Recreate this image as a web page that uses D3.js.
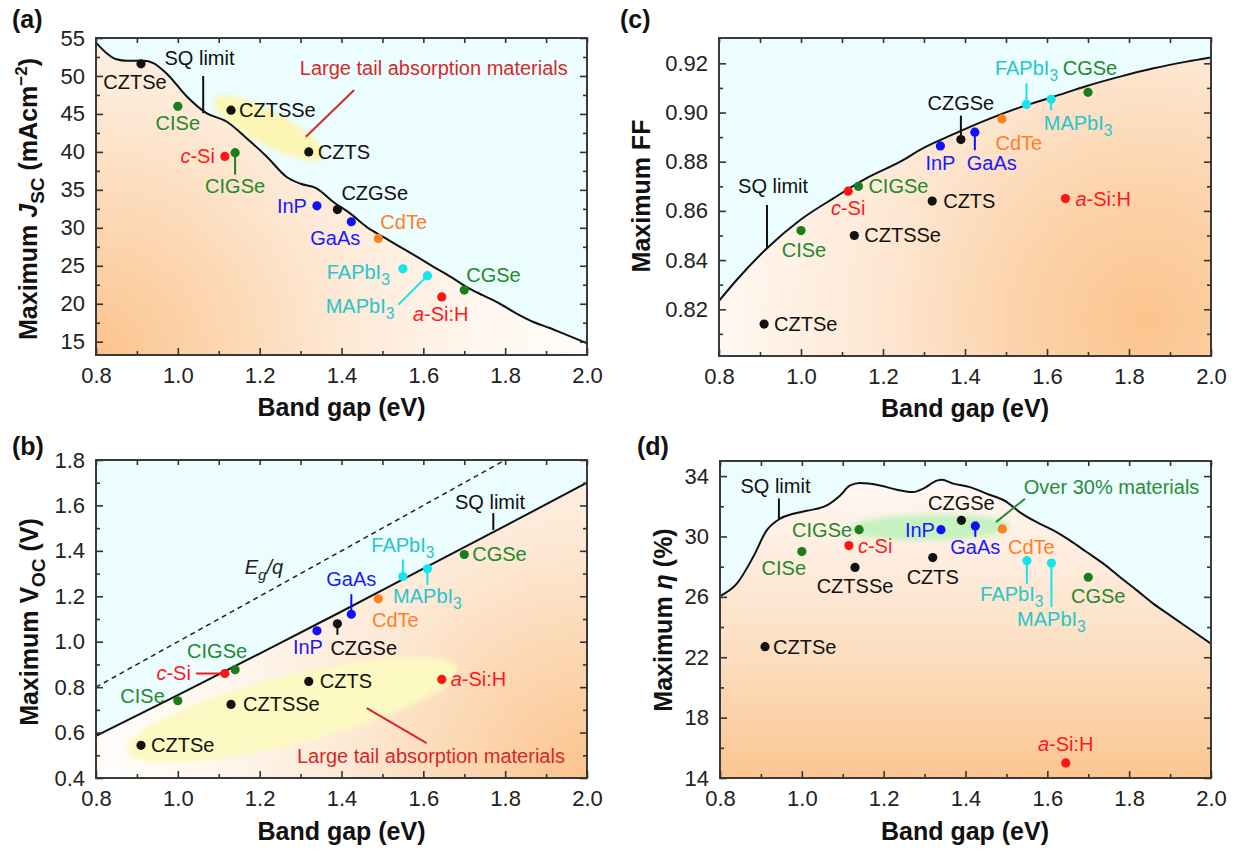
<!DOCTYPE html>
<html>
<head>
<meta charset="utf-8">
<script src="https://cdn.jsdelivr.net/npm/d3@7"></script>
<style>
  body { margin: 0; background: #fff; }
  svg { display: block; font-family: "Liberation Sans", Arial, sans-serif; }
</style>
</head>
<body>
<svg width="1242" height="852"></svg>
<script>
// materials and their band gaps (eV)
const materials = ['CZTSe', 'CISe', 'c-Si', 'CIGSe', 'CZTSSe', 'CZTS', 'InP', 'CZGSe', 'GaAs', 'CdTe', 'FAPbI3', 'MAPbI3', 'a-Si:H', 'CGSe'];
const bandGap = [0.91, 1.00, 1.115, 1.14, 1.13, 1.32, 1.34, 1.39, 1.424, 1.49, 1.55, 1.61, 1.645, 1.70];

// best values per material
const jscValues = [51.6, 46.0, 39.4, 39.9, 45.5, 40.0, 32.9, 32.4, 30.8, 28.6, 24.6, 23.7, 20.9, 21.8];
const vocValues = [0.544, 0.740, 0.860, 0.877, 0.724, 0.825, 1.048, 1.079, 1.121, 1.189, 1.287, 1.321, 0.834, 1.384];
const ffValues = [0.814, 0.852, 0.868, 0.870, 0.850, 0.864, 0.8864, 0.889, 0.892, 0.8974, 0.9033, 0.9054, 0.865, 0.9082];
const effValues = [22.7, 29.0, 29.4, 30.45, 27.95, 28.6, 30.45, 31.07, 30.7, 30.5, 28.4, 28.24, 15.0, 27.3];

// Shockley-Queisser limit curves [gap, value]
const sqJsc = [[0.80, 54.4], [0.826, 53.0], [0.85, 52.2], [0.875, 52.0], [0.916, 52.0], [0.94, 51.7], [0.973, 50.3], [1.022, 47.3], [1.07, 45.1], [1.119, 44.0], [1.168, 41.8], [1.217, 39.4], [1.266, 36.7], [1.30, 35.8], [1.339, 35.2], [1.38, 33.4], [1.421, 31.9], [1.462, 30.1], [1.502, 28.8], [1.543, 27.5], [1.584, 26.2], [1.624, 24.9], [1.665, 23.6], [1.706, 22.2], [1.746, 21.1], [1.787, 20.0], [1.828, 18.7], [1.869, 17.6], [1.909, 16.8], [1.95, 15.9], [2.0, 14.8]];
const sqVoc = [[0.8, 0.585], [1.0, 0.765], [1.2, 0.948], [1.4, 1.133], [1.6, 1.322], [1.8, 1.51], [2.0, 1.70]];
const egLine = [[0.8, 0.8], [1.8, 1.8]];
const sqFF = [[0.8, 0.8234], [0.843, 0.8319], [0.917, 0.8448], [0.998, 0.8563], [1.079, 0.8651], [1.16, 0.8733], [1.25, 0.8807], [1.29, 0.8848], [1.372, 0.8912], [1.453, 0.897], [1.534, 0.9021], [1.616, 0.9064], [1.697, 0.9108], [1.778, 0.9146], [1.86, 0.918], [1.941, 0.9207], [2.0, 0.9224]];
const sqEff = [[0.8, 26.05], [0.841, 26.87], [0.881, 28.64], [0.914, 30.4], [0.947, 31.18], [0.979, 31.5], [1.012, 31.7], [1.061, 32.06], [1.093, 32.7], [1.118, 33.38], [1.142, 33.54], [1.191, 33.38], [1.232, 33.1], [1.272, 32.94], [1.297, 33.17], [1.33, 33.7], [1.342, 33.76], [1.37, 33.5], [1.411, 33.27], [1.452, 32.83], [1.501, 32.28], [1.533, 31.6], [1.574, 30.95], [1.615, 30.4], [1.655, 29.74], [1.696, 28.97], [1.737, 28.2], [1.778, 27.3], [1.819, 26.43], [1.859, 25.55], [1.9, 24.77], [1.941, 24.0], [2.0, 22.9]];

// ticks
const xTicks = [0.8, 1.0, 1.2, 1.4, 1.6, 1.8, 2.0];
const xMinor = [0.9, 1.1, 1.3, 1.5, 1.7, 1.9];
const jscTicks = [15, 20, 25, 30, 35, 40, 45, 50, 55];
const jscMinor = [17.5, 22.5, 27.5, 32.5, 37.5, 42.5, 47.5, 52.5];
const vocTicks = [0.4, 0.6, 0.8, 1.0, 1.2, 1.4, 1.6, 1.8];
const vocMinor = [0.5, 0.7, 0.9, 1.1, 1.3, 1.5, 1.7];
const ffTicks = [0.82, 0.84, 0.86, 0.88, 0.90, 0.92];
const ffMinor = [0.81, 0.83, 0.85, 0.87, 0.89, 0.91];
const effTicks = [14, 18, 22, 26, 30, 34];
const effMinor = [16, 20, 24, 28, 32];

// colours per material: [dot, label]
const black = ['#111', '#111'], green = ['#1b7d1b', '#23892b'], red = ['#ff1414', '#ff1a1a'];
const blue = ['#1010ff', '#1a1aff'], orange = ['#ff8020', '#ff7f27'], cyan = ['#14e4ee', '#26c6ca'];
const matColor = [black, green, red, green, black, black, blue, black, blue, orange, cyan, cyan, red, green];

// label layout per panel: [dx, dy, anchor, leader]
const layoutA = [[-6, 18, 'middle'], [0, 17, 'middle'], [-10, 0, 'end'], [0, 33, 'middle', [0, 4, 0, 22]], [8, 0, 'start'], [9, 0, 'start'], [-10, 0, 'end'], [4, -17, 'start'], [9, 16, 'end'], [2, -16, 'start'], [-13, 3, 'end'], [-33, 30, 'end', [-3, 3, -29, 29]], [-1, 17, 'middle'], [2, -15, 'start']];
const layoutB = [[10, 0, 'start'], [-13, -5, 'end'], [-34, -1, 'end', [-29, 0, -4, 0]], [-18, -19, 'middle'], [12, 0, 'start'], [11, 0, 'start'], [-9, 16, 'middle'], [-7, 24, 'start', [0, 3, 0, 11]], [0, -35, 'middle', [0, -20, 0, -4]], [17, 21, 'middle'], [0, -32, 'middle', [0, -17, 0, -4]], [0, 27, 'middle', [0, 4, 0, 16]], [9, 0, 'start'], [8, 0, 'start']];
const layoutC = [[10, 0, 'start'], [3, 19, 'middle'], [0, 17, 'middle'], [10, 0, 'start'], [10, 0, 'start'], [11, 0, 'start'], [0, 17, 'middle'], [0, -37, 'middle', [0, -4, 0, -24]], [17, 31, 'middle', [0, 4, 0, 18]], [17, 24, 'middle'], [0, -36, 'middle', [0, -4, 0, -21]], [27, 24, 'middle', [0, 4, 0, 11]], [10, 0, 'start'], [2, -24, 'middle']];
const layoutD = [[8, 0, 'start'], [-18, 16, 'middle'], [9, 0, 'start'], [-7, 0, 'end'], [0, 19, 'middle'], [0, 19, 'middle'], [-6, 0, 'end'], [0, -17, 'middle'], [0, 21, 'middle', [0, 4, 0, 11]], [29, 18, 'middle'], [-15, 33, 'middle', [0, 4, 0, 23]], [0, 56, 'middle', [0, 4, 0, 44]], [0, -19, 'middle'], [10, 19, 'middle']];

const FONT = '"Liberation Sans", Arial, sans-serif';
const svg = d3.select('svg');
const defs = svg.append('defs');
defs.append('filter').attr('id', 'soft').attr('x', '-20%').attr('y', '-50%').attr('width', '140%').attr('height', '200%')
  .append('feGaussianBlur').attr('stdDeviation', 2.5);

const panels = [
  {
    id: 'a', box: [96, 38, 587, 355], yDomain: [13.25, 55], yTicks: jscTicks, yMinor: jscMinor, fmt: d3.format('d'),
    values: jscValues, sq: sqJsc, layout: layoutA, letter: [12, 28],
    grad: {type: 'radial', cx: 96, cy: 355, r: 560, stops: [[0, '#fbc38c'], [0.22, '#fcd6b0'], [0.45, '#fde9d6'], [0.7, '#fff7f0'], [1, '#ffffff']]},
    blob: {c: [1.223, 43.14], rx: 62, ry: 17, rot: 28, fill: '#fbf6b4'},
    sqTick: [1.062, 50.0, 45.1], sqText: [1.053, 52.33],
    note: {text: 'Large tail absorption materials', at: [1.953, 51.0], anchor: 'end', color: '#d42a2a', line: [[1.431, 48.15], [1.313, 42.0]]},
    yTitle: [37, 199, ['Maximum ', ['J', 'i'], ['SC', 'sub'], ' (mAcm', ['\u22122', 'sup'], ')']], xTitle: [341.5, 416]
  },
  {
    id: 'b', box: [96, 460, 587, 778], yDomain: [0.4, 1.8], yTicks: vocTicks, yMinor: vocMinor, fmt: d3.format('.1f'),
    values: vocValues, sq: sqVoc, layout: layoutB, letter: [12, 455],
    grad: {type: 'radial', cx: 587, cy: 778, r: 540, stops: [[0, '#fbc38c'], [0.22, '#fcd6b0'], [0.45, '#fde9d6'], [0.7, '#fff7f0'], [1, '#ffffff']]},
    blob: {c: [1.279, 0.701], rx: 170, ry: 34, rot: -14, fill: '#fcf9c2'},
    sqTick: [1.771, 1.566, 1.492], sqText: [1.763, 1.617],
    note: {text: 'Large tail absorption materials', at: [1.946, 0.495], anchor: 'end', color: '#d42a2a', line: [[1.4616, 0.708], [1.608, 0.554]]},
    eg: [1.2105, 1.331],
    yTitle: [38, 622, ['Maximum ', ['V', ''], ['OC', 'sub'], ' (V)']], xTitle: [341.5, 840]
  },
  {
    id: 'c', box: [719, 38, 1211, 356], yDomain: [0.801, 0.9303], yTicks: ffTicks, yMinor: ffMinor, fmt: d3.format('.2f'),
    values: ffValues, sq: sqFF, layout: layoutC, letter: [620, 28],
    grad: {type: 'radial', cx: 1145, cy: 320, r: 520, stops: [[0, '#fbc48e'], [0.25, '#fcd3aa'], [0.5, '#fde6d1'], [0.78, '#fff6ee'], [1, '#ffffff']]},
    sqTick: [0.917, 0.8624, 0.8449], sqText: [0.932, 0.8701],
    yTitle: [650, 196, ['Maximum FF']], xTitle: [965, 417]
  },
  {
    id: 'd', box: [720, 461, 1211, 778], yDomain: [14, 35], yTicks: effTicks, yMinor: effMinor, fmt: d3.format('d'),
    values: effValues, sq: sqEff, layout: layoutD, letter: [637, 455],
    grad: {type: 'linear', stops: [[0, '#fffaf6'], [0.3, '#feeddf'], [0.65, '#fcdcbc'], [1, '#fbc590']]},
    blob: {c: [1.313, 30.6], rx: 80, ry: 13, rot: -1, fill: '#c6f2bf'},
    sqTick: [0.944, 32.52, 31.13], sqText: [0.9356, 33.32],
    note: {text: 'Over 30% materials', at: [1.757, 33.27], anchor: 'middle', color: '#2e8b3a', line: [[1.5454, 32.5], [1.4745, 30.95]]},
    yTitle: [672, 620, ['Maximum ', ['\u03b7', 'i'], ' (%)']], xTitle: [965, 840]
  }
];

// label text with italic prefix (c-, a-) or subscript 3
function materialText(g, name, x, y, anchor, color, size) {
  const t = g.append('text').attr('x', x).attr('y', y).attr('text-anchor', anchor)
    .attr('fill', color).style('font-size', size + 'px');
  const m = name.match(/^([ac])-(.*)$/);
  if (m) {
    t.append('tspan').style('font-style', 'italic').text(m[1]);
    t.append('tspan').text('-' + m[2]);
  } else if (/3$/.test(name)) {
    t.append('tspan').text(name.slice(0, -1));
    t.append('tspan').attr('dy', 6).style('font-size', (size * 0.78) + 'px').text('3');
  } else {
    t.text(name);
  }
  return t;
}

panels.forEach(p => {
  const [l, t, r, b] = p.box;
  const x = d3.scaleLinear().domain([0.8, 2.0]).range([l, r]);
  const y = d3.scaleLinear().domain(p.yDomain).range([b, t]);
  const g = svg.append('g');

  // gradient under the SQ limit
  let grad;
  if (p.grad.type === 'radial') {
    grad = defs.append('radialGradient').attr('id', 'g' + p.id).attr('gradientUnits', 'userSpaceOnUse')
      .attr('cx', p.grad.cx).attr('cy', p.grad.cy).attr('r', p.grad.r);
  } else {
    grad = defs.append('linearGradient').attr('id', 'g' + p.id).attr('gradientUnits', 'userSpaceOnUse')
      .attr('x1', 0).attr('x2', 0).attr('y1', t).attr('y2', b);
  }
  p.grad.stops.forEach(s => grad.append('stop').attr('offset', s[0]).attr('stop-color', s[1]));
  defs.append('clipPath').attr('id', 'clip' + p.id).append('rect')
    .attr('x', l).attr('y', t).attr('width', r - l).attr('height', b - t);

  const plot = g.append('g').attr('clip-path', `url(#clip${p.id})`);
  plot.append('rect').attr('x', l).attr('y', t).attr('width', r - l).attr('height', b - t).attr('fill', '#ebfdfe');

  const area = d3.area().x(d => x(d[0])).y0(b).y1(d => y(d[1])).curve(d3.curveMonotoneX);
  plot.append('path').datum(p.sq).attr('d', area).attr('fill', `url(#g${p.id})`);

  if (p.blob) {
    plot.append('ellipse')
      .attr('transform', `translate(${x(p.blob.c[0])},${y(p.blob.c[1])}) rotate(${p.blob.rot})`)
      .attr('rx', p.blob.rx).attr('ry', p.blob.ry).attr('fill', p.blob.fill).attr('filter', 'url(#soft)');
  }

  if (p.eg) {
    const ln = d3.line().x(d => x(d[0])).y(d => y(d[1]));
    plot.append('path').datum(egLine).attr('d', ln).attr('fill', 'none')
      .attr('stroke', '#222').attr('stroke-width', 1.5).attr('stroke-dasharray', '5,4');
    const et = g.append('text').attr('x', x(p.eg[0])).attr('y', y(p.eg[1]) + 7).attr('text-anchor', 'middle')
      .attr('fill', '#222').style('font-size', '20px').style('font-style', 'italic');
    et.append('tspan').text('E');
    et.append('tspan').attr('dy', 6).style('font-size', '15px').text('g');
    et.append('tspan').attr('dy', -6).text('/q');
  }

  const line = d3.line().x(d => x(d[0])).y(d => y(d[1])).curve(d3.curveMonotoneX);
  plot.append('path').datum(p.sq).attr('d', line).attr('fill', 'none').attr('stroke', '#111').attr('stroke-width', 2);

  // SQ limit label
  g.append('line').attr('x1', x(p.sqTick[0])).attr('x2', x(p.sqTick[0]))
    .attr('y1', y(p.sqTick[1])).attr('y2', y(p.sqTick[2])).attr('stroke', '#111').attr('stroke-width', 2);
  g.append('text').attr('x', x(p.sqText[0])).attr('y', y(p.sqText[1]) + 7).attr('text-anchor', 'middle')
    .attr('fill', '#111').style('font-size', '20px').text('SQ limit');

  if (p.note) {
    g.append('line').attr('x1', x(p.note.line[0][0])).attr('y1', y(p.note.line[0][1]))
      .attr('x2', x(p.note.line[1][0])).attr('y2', y(p.note.line[1][1]))
      .attr('stroke', p.note.color).attr('stroke-width', 2);
    g.append('text').attr('x', x(p.note.at[0])).attr('y', y(p.note.at[1]) + 7).attr('text-anchor', p.note.anchor)
      .attr('fill', p.note.color).style('font-size', '20px').text(p.note.text);
  }

  // leader lines, dots and labels
  const pts = materials.map((m, i) => ({name: m, gap: bandGap[i], v: p.values[i], col: matColor[i], lay: p.layout[i]}));
  pts.forEach(d => {
    if (d.lay[3]) {
      const cx = x(d.gap), cy = y(d.v), L = d.lay[3];
      g.append('line').attr('x1', cx + L[0]).attr('y1', cy + L[1]).attr('x2', cx + L[2]).attr('y2', cy + L[3])
        .attr('stroke', d.col[0]).attr('stroke-width', 2);
    }
  });
  g.selectAll('circle.pt').data(pts).enter().append('circle').attr('class', 'pt')
    .attr('cx', d => x(d.gap)).attr('cy', d => y(d.v)).attr('r', 4.6).attr('fill', d => d.col[0]);
  pts.forEach(d => {
    materialText(g, d.name, x(d.gap) + d.lay[0], y(d.v) + d.lay[1] + 7, d.lay[2], d.col[1], 20);
  });

  // frame
  g.append('rect').attr('x', l).attr('y', t).attr('width', r - l).attr('height', b - t)
    .attr('fill', 'none').attr('stroke', '#3a3a3a').attr('stroke-width', 2);

  // axes with inward ticks on all four sides
  const style = sel => sel.attr('font-size', 22).attr('font-family', FONT).attr('color', '#222')
    .call(s => s.select('.domain').remove())
    .call(s => s.selectAll('.tick line').attr('stroke', '#333').attr('stroke-width', 1.6));
  g.append('g').attr('transform', `translate(0,${b})`)
    .call(d3.axisBottom(x).tickValues(xTicks).tickFormat(d3.format('.1f')).tickSize(-7).tickPadding(12)).call(style);
  g.append('g').attr('transform', `translate(0,${b})`)
    .call(d3.axisBottom(x).tickValues(xMinor).tickFormat('').tickSize(-4)).call(style);
  g.append('g').attr('transform', `translate(0,${t})`)
    .call(d3.axisTop(x).tickValues(xTicks.concat(xMinor)).tickFormat('').tickSize(-5)).call(style);
  g.append('g').attr('transform', `translate(${l},0)`)
    .call(d3.axisLeft(y).tickValues(p.yTicks).tickFormat(p.fmt).tickSize(-7).tickPadding(11)).call(style);
  g.append('g').attr('transform', `translate(${l},0)`)
    .call(d3.axisLeft(y).tickValues(p.yMinor).tickFormat('').tickSize(-4)).call(style);
  g.append('g').attr('transform', `translate(${r},0)`)
    .call(d3.axisRight(y).tickValues(p.yTicks).tickFormat('').tickSize(-7)).call(style);
  g.append('g').attr('transform', `translate(${r},0)`)
    .call(d3.axisRight(y).tickValues(p.yMinor).tickFormat('').tickSize(-4)).call(style);

  // titles
  g.append('text').attr('x', p.xTitle[0]).attr('y', p.xTitle[1]).attr('text-anchor', 'middle')
    .style('font-size', '25px').style('font-weight', 'bold').attr('fill', '#111').text('Band gap (eV)');
  const yt = g.append('text').attr('transform', `translate(${p.yTitle[0]},${p.yTitle[1]}) rotate(-90)`)
    .attr('text-anchor', 'middle').style('font-size', '25px').style('font-weight', 'bold').attr('fill', '#111');
  let shift = 0;
  p.yTitle[2].forEach(part => {
    if (typeof part === 'string') {
      yt.append('tspan').attr('dy', -shift).text(part); shift = 0;
    } else if (part[1] === 'i') {
      yt.append('tspan').attr('dy', -shift).style('font-style', 'italic').text(part[0]); shift = 0;
    } else if (part[1] === 'sub') {
      yt.append('tspan').attr('dy', 7 - shift).style('font-size', '19px').text(part[0]); shift = 7;
    } else if (part[1] === 'sup') {
      yt.append('tspan').attr('dy', -10 - shift).style('font-size', '17px').text(part[0]); shift = -10;
    } else {
      yt.append('tspan').attr('dy', -shift).text(part[0]); shift = 0;
    }
  });
  g.append('text').attr('x', p.letter[0]).attr('y', p.letter[1]).style('font-size', '25px')
    .style('font-weight', 'bold').attr('fill', '#111').text(`(${p.id})`);
});
</script>
</body>
</html>
